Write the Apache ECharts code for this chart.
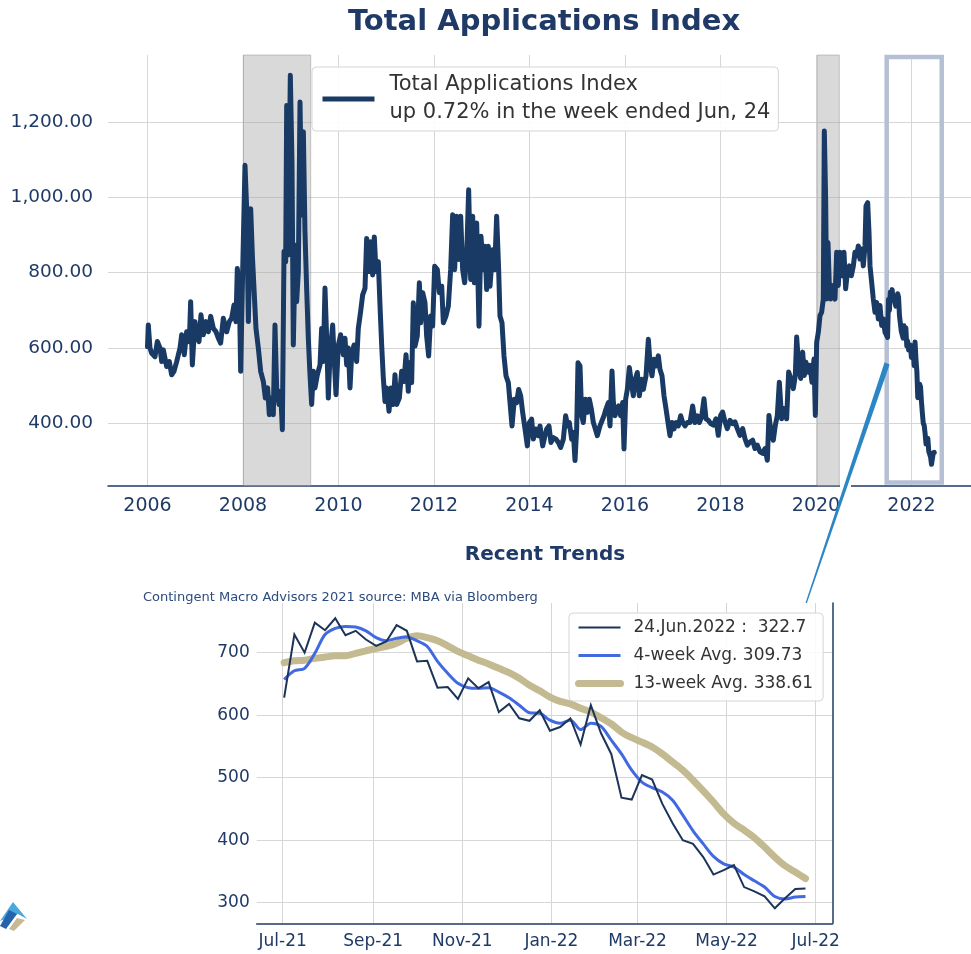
<!DOCTYPE html>
<html><head><meta charset="utf-8">
<script src="https://cdn.jsdelivr.net/npm/echarts@6/dist/echarts.min.js"></script>
<style>html,body{margin:0;padding:0;background:#fff}#c{width:971px;height:954px}</style>
</head><body><div id="c"></div>
<script>
// ---------- DATA ----------
// Total Applications Index, weekly history: [decimal year, index]
const topHistory = [
[2006.000,604],[2006.017,661],[2006.052,600],[2006.087,586],[2006.157,577],[2006.206,617],[2006.262,600],[2006.297,564],[2006.332,595],[2006.401,551],
[2006.457,564],[2006.506,529],[2006.555,538],[2006.611,564],[2006.681,600],[2006.716,635],[2006.771,582],[2006.820,643],[2006.876,617],[2006.904,723],
[2006.939,555],[2006.995,670],[2007.030,635],[2007.079,617],[2007.120,688],[2007.169,635],[2007.225,670],[2007.274,643],[2007.323,684],[2007.379,652],
[2007.435,643],[2007.484,626],[2007.532,613],[2007.588,679],[2007.658,643],[2007.714,670],[2007.763,679],[2007.812,714],[2007.853,670],[2007.881,811],
[2007.923,758],[2007.951,538],[2007.993,802],[2008.042,1085],[2008.077,970],[2008.112,670],[2008.161,970],[2008.196,847],[2008.237,741],[2008.272,652],
[2008.321,600],[2008.370,538],[2008.426,511],[2008.468,467],[2008.516,494],[2008.551,423],[2008.600,467],[2008.635,423],[2008.670,661],[2008.705,494],
[2008.754,450],[2008.789,485],[2008.824,383],[2008.859,856],[2008.894,829],[2008.915,1244],[2008.949,847],[2008.991,1324],[2009.026,1094],[2009.054,608],
[2009.096,873],[2009.124,723],[2009.159,803],[2009.194,1253],[2009.229,953],[2009.264,1174],[2009.298,909],[2009.333,759],[2009.368,626],[2009.403,529],
[2009.438,450],[2009.473,538],[2009.508,494],[2009.557,529],[2009.613,555],[2009.647,652],[2009.682,564],[2009.717,759],[2009.752,626],[2009.787,467],
[2009.822,582],[2009.878,661],[2009.906,582],[2009.948,476],[2009.997,608],[2010.045,635],[2010.101,582],[2010.136,626],[2010.171,555],[2010.206,600],
[2010.241,494],[2010.276,582],[2010.325,608],[2010.380,564],[2010.415,652],[2010.464,697],[2010.506,741],[2010.555,758],[2010.590,891],[2010.632,803],
[2010.674,882],[2010.715,794],[2010.750,895],[2010.785,803],[2010.834,829],[2010.869,714],[2010.904,608],[2010.939,520],[2010.974,458],[2011.009,494],
[2011.058,432],[2011.100,494],[2011.148,450],[2011.183,529],[2011.218,450],[2011.274,467],[2011.323,538],[2011.372,511],[2011.414,582],[2011.462,485],
[2011.483,561],[2011.532,508],[2011.567,720],[2011.602,605],[2011.651,632],[2011.693,773],[2011.721,667],[2011.763,747],[2011.812,720],[2011.846,632],
[2011.888,579],[2011.930,685],[2011.972,658],[2012.014,817],[2012.070,808],[2012.112,747],[2012.161,764],[2012.196,667],[2012.251,685],[2012.300,711],
[2012.349,808],[2012.391,954],[2012.433,808],[2012.475,950],[2012.517,835],[2012.559,950],[2012.600,808],[2012.642,773],[2012.684,844],[2012.726,1020],
[2012.768,782],[2012.810,950],[2012.845,773],[2012.894,932],[2012.942,658],[2012.984,897],[2013.033,808],[2013.068,870],[2013.103,755],[2013.138,870],
[2013.173,764],[2013.229,861],[2013.271,808],[2013.312,950],[2013.354,808],[2013.382,685],[2013.424,667],[2013.466,579],[2013.508,526],[2013.557,508],
[2013.592,455],[2013.634,393],[2013.682,464],[2013.731,455],[2013.773,490],[2013.815,473],[2013.857,429],[2013.906,385],[2013.955,340],[2013.997,402],
[2014.045,411],[2014.080,358],[2014.129,385],[2014.185,367],[2014.220,393],[2014.276,340],[2014.325,367],[2014.360,385],[2014.408,393],[2014.450,349],
[2014.499,362],[2014.555,358],[2014.604,349],[2014.653,336],[2014.709,358],[2014.757,420],[2014.799,393],[2014.834,402],[2014.883,358],[2014.918,376],
[2014.953,301],[2014.988,385],[2015.016,561],[2015.058,552],[2015.093,420],[2015.127,402],[2015.169,464],[2015.211,429],[2015.253,464],[2015.295,438],
[2015.337,402],[2015.379,385],[2015.421,367],[2015.476,393],[2015.511,393],[2015.560,420],[2015.602,438],[2015.651,455],[2015.686,393],[2015.728,539],
[2015.756,455],[2015.791,420],[2015.826,438],[2015.867,446],[2015.909,420],[2015.951,455],[2015.979,332],[2016.014,464],[2016.049,490],[2016.091,548],
[2016.133,508],[2016.175,473],[2016.216,517],[2016.258,535],[2016.300,473],[2016.349,517],[2016.384,490],[2016.440,526],[2016.489,623],[2016.524,561],
[2016.565,526],[2016.607,570],[2016.649,552],[2016.698,579],[2016.733,543],[2016.775,526],[2016.817,473],[2016.859,438],[2016.901,402],[2016.942,367],
[2016.984,402],[2017.026,385],[2017.068,402],[2017.117,393],[2017.166,420],[2017.208,402],[2017.257,393],[2017.305,402],[2017.361,402],[2017.417,446],
[2017.466,402],[2017.515,420],[2017.557,402],[2017.605,417],[2017.654,465],[2017.696,412],[2017.745,408],[2017.794,399],[2017.850,395],[2017.906,412],
[2017.954,368],[2018.003,421],[2018.045,430],[2018.094,404],[2018.143,386],[2018.199,408],[2018.255,399],[2018.303,404],[2018.352,386],[2018.408,368],
[2018.464,386],[2018.513,359],[2018.562,342],[2018.618,350],[2018.673,355],[2018.722,333],[2018.771,342],[2018.827,324],[2018.883,320],[2018.932,333],
[2018.981,302],[2019.015,421],[2019.057,377],[2019.106,355],[2019.148,395],[2019.190,421],[2019.232,509],[2019.281,412],[2019.330,439],[2019.385,412],
[2019.427,536],[2019.476,519],[2019.525,492],[2019.567,527],[2019.595,629],[2019.637,554],[2019.679,519],[2019.721,589],[2019.755,527],[2019.790,562],
[2019.839,536],[2019.874,554],[2019.916,509],[2019.958,571],[2019.986,421],[2020.014,615],[2020.049,642],[2020.084,686],[2020.118,695],[2020.153,730],
[2020.174,1176],[2020.202,995],[2020.223,730],[2020.251,880],[2020.279,766],[2020.307,730],[2020.335,766],[2020.363,739],[2020.398,730],[2020.433,854],
[2020.467,766],[2020.502,854],[2020.544,792],[2020.586,854],[2020.621,757],[2020.656,801],[2020.698,818],[2020.740,792],[2020.782,818],[2020.816,854],
[2020.851,845],[2020.886,871],[2020.921,836],[2020.956,863],[2020.991,818],[2021.026,871],[2021.047,977],[2021.082,986],[2021.110,907],[2021.131,818],
[2021.166,774],[2021.200,730],[2021.235,695],[2021.270,721],[2021.305,677],[2021.340,713],[2021.375,660],[2021.410,677],[2021.445,642]
];

// Recent trends (weekly, first week ended 2 Jul 2021, last 24 Jun 2022)
const recentFirstWeek = [2021, 6, 2];
const recentWeekly = [628,729,700,748,736,755,728,735,721,711,718,744,735,686,687,644,645,626,659,643,653,605,618,595,591,608,575,581,595,553,616,571,538,468,465,504,497,458,427,400,394,373,345,352,360,325,318,310,291,307,322,322.7];
const recentAvg4 = [657,671,675,699,729,739,742,741,735,724,719,723,725,719,710,686,667,651,644,643,644,637,628,616,604,603,592,587,592,577,587,582,560,538,512,493,484,477,464,440,415,394,374,362,357,345,335,325,310,306,309,309.73];
const recentAvg13 = [684,687,688,691,693,695,695,699,703,707,710,715,723,727,724,719,711,702,695,688,682,675,668,659,648,639,629,622,618,611,605,596,586,573,564,557,549,538,525,512,496,479,461,442,427,416,404,389,373,359,349,338.61];
const recentNames = ['24.Jun.2022 :  322.7', '4-week Avg. 309.73', '13-week Avg. 338.61'];

// Tick labels
const topYearTicks = [2006,2008,2010,2012,2014,2016,2018,2020,2022];
const topValueTicks = [400,600,800,1000,1200];
const recentValueTicks = [300,400,500,600,700];
const recentMonthTicks = [[2021,6],[2021,8],[2021,10],[2022,0],[2022,2],[2022,4],[2022,6]];
const monthNames = ['Jan','Feb','Mar','Apr','May','Jun','Jul','Aug','Sep','Oct','Nov','Dec'];

// Shaded recessions and highlighted window (decimal years)
const recessions = [[2008.006, 2009.418],[2020.027, 2020.488]];
const zoomWindow = {x: [2021.48, 2022.633], y: [242.8, 1373]};

const topName = 'Total Applications Index\nup 0.72% in the week ended Jun, 24';
const mainTitle = 'Total Applications Index';
const subTitle = 'Recent Trends';
const sourceNote = 'Contingent Macro Advisors 2021 source: MBA via Bloomberg';

// ---------- BUILD ----------
const FONT = 'DejaVu Sans';
const NAVY = '#1f3a66';
const DAY = 86400000;
const t0 = Date.UTC(recentFirstWeek[0], recentFirstWeek[1], recentFirstWeek[2]);
const recentDates = recentWeekly.map((_, i) => t0 + i * 7 * DAY);
const toYear = t => { const y = new Date(t).getUTCFullYear(); const a = Date.UTC(y,0,1), b = Date.UTC(y+1,0,1); return y + (t - a) / (b - a); };
const topData = topHistory.concat(recentDates.map((t, i) => [toYear(t), recentWeekly[i]]));
const monthTickValues = recentMonthTicks.map(m => Date.UTC(m[0], m[1], 1));
const fmtThousands = v => String(Math.round(v)).replace(/\B(?=(\d{3})+(?!\d))/g, ',') + '.00';
const fmtMonth = v => { const d = new Date(v); return monthNames[d.getUTCMonth()] + '-' + String(d.getUTCFullYear()).slice(2); };

const insetMin = Date.UTC(2021,6,1) - 17.8 * DAY;
const insetMax = Date.UTC(2022,6,1) + 11.5 * DAY;

const chart = echarts.init(document.getElementById('c'), null, {renderer: 'canvas', width: 971, height: 954});
const gridLine = {show: true, lineStyle: {color: '#d6d6d6', width: 1}};
const noSymbol = {opacity: 0, borderWidth: 0};

chart.setOption({
  animation: false,
  textStyle: {fontFamily: FONT},
  grid: [
    {left: 108, right: 0, top: 55, height: 431},
    {left: 256.7, top: 603, width: 575.8, height: 320.3}
  ],
  xAxis: [
    {gridIndex: 0, type: 'value', min: 2005.173, max: 2023.246,
     axisLine: {show: true, onZero: false, lineStyle: {color: NAVY, width: 1.5}},
     axisTick: {show: false, customValues: topYearTicks},
     axisLabel: {customValues: topYearTicks, formatter: v => String(v), color: NAVY, fontSize: 19, margin: 11, fontFamily: FONT},
     splitLine: gridLine},
    {gridIndex: 1, type: 'value', min: insetMin, max: insetMax,
     axisLine: {show: true, onZero: false, lineStyle: {color: NAVY, width: 1.5}},
     axisTick: {show: false, customValues: monthTickValues},
     axisLabel: {customValues: monthTickValues, formatter: fmtMonth, color: NAVY, fontSize: 17, margin: 10, fontFamily: FONT},
     splitLine: gridLine}
  ],
  yAxis: [
    {gridIndex: 0, type: 'value', min: 233.5, max: 1378,
     axisLine: {show: false}, axisTick: {show: false, customValues: topValueTicks},
     axisLabel: {customValues: topValueTicks, formatter: fmtThousands, color: NAVY, fontSize: 18.5, margin: 15, fontFamily: FONT},
     splitLine: gridLine},
    {gridIndex: 1, type: 'value', min: 267, max: 779.5,
     axisLine: {show: false}, axisTick: {show: false, customValues: recentValueTicks},
     axisLabel: {customValues: recentValueTicks, color: NAVY, fontSize: 17, margin: 7, fontFamily: FONT},
     splitLine: gridLine},
    {gridIndex: 1, type: 'value', position: 'right', min: 267, max: 779.5,
     axisLine: {show: true, onZero: false, lineStyle: {color: NAVY, width: 1.5}},
     axisTick: {show: false}, axisLabel: {show: false}, splitLine: {show: false}}
  ],
  legend: [
    {data: [{name: topName, lineStyle: {width: 5, cap: 'butt'}, itemStyle: noSymbol}], left: 312, top: 67, padding: [4, 8, 4, 8],
     itemWidth: 52, itemHeight: 14, selectedMode: false,
     borderColor: '#d5d5d5', borderWidth: 1, borderRadius: 4, backgroundColor: 'rgba(255,255,255,0.92)',
     textStyle: {fontSize: 21, lineHeight: 28, color: '#333', fontFamily: FONT, padding: [0, 0, 0, 10]}},
    {data: [{name: recentNames[0], lineStyle: {width: 2}, itemStyle: noSymbol}, {name: recentNames[1], lineStyle: {width: 3}, itemStyle: noSymbol}, {name: recentNames[2], lineStyle: {width: 7, cap: 'round'}, itemStyle: noSymbol}],
     orient: 'vertical', left: 569, top: 613, padding: [6, 10, 9, 6],
     itemWidth: 42, itemHeight: 14, itemGap: 11, selectedMode: false,
     borderColor: '#d5d5d5', borderWidth: 1, borderRadius: 4, backgroundColor: 'rgba(255,255,255,0.88)',
     textStyle: {fontSize: 17, lineHeight: 17, color: '#333', fontFamily: FONT, padding: [0, 0, 0, 8]}}
  ],
  series: [
    {name: topName, type: 'line', xAxisIndex: 0, yAxisIndex: 0, data: topData, symbol: 'none',
     lineStyle: {color: '#183a64', width: 5, cap: 'round', join: 'round'}, itemStyle: {color: '#183a64'}, z: 3,
     markArea: {silent: true, z: 1, data: [
       [{xAxis: recessions[0][0], itemStyle: {color: 'rgba(165,165,165,0.42)', borderColor: 'rgba(140,140,140,0.45)', borderWidth: 1}}, {xAxis: recessions[0][1]}],
       [{xAxis: recessions[1][0], itemStyle: {color: 'rgba(165,165,165,0.42)', borderColor: 'rgba(140,140,140,0.45)', borderWidth: 1}}, {xAxis: recessions[1][1]}],
       [{xAxis: zoomWindow.x[0], yAxis: zoomWindow.y[1], itemStyle: {color: 'rgba(0,0,0,0)', borderColor: '#b6c0d4', borderWidth: 4.5}}, {xAxis: zoomWindow.x[1], yAxis: zoomWindow.y[0]}]
     ]}},
    {name: recentNames[2], type: 'line', xAxisIndex: 1, yAxisIndex: 1, data: recentDates.map((t, i) => [t, recentAvg13[i]]), symbol: 'none', smooth: 0.3,
     lineStyle: {color: '#c4ba92', width: 7, cap: 'round', join: 'round'}, itemStyle: {color: '#c4ba92'}, z: 2},
    {name: recentNames[1], type: 'line', xAxisIndex: 1, yAxisIndex: 1, data: recentDates.map((t, i) => [t, recentAvg4[i]]), symbol: 'none', smooth: 0.3,
     lineStyle: {color: '#4169e1', width: 3, join: 'round'}, itemStyle: {color: '#4169e1'}, z: 3},
    {name: recentNames[0], type: 'line', xAxisIndex: 1, yAxisIndex: 1, data: recentDates.map((t, i) => [t, recentWeekly[i]]), symbol: 'none',
     lineStyle: {color: '#1c3459', width: 2, join: 'miter'}, itemStyle: {color: '#1c3459'}, z: 4}
  ],
  graphic: [
    {type: 'text', x: 544, y: 22, z: 10, style: {text: mainTitle, fontSize: 29, fontWeight: 'bold', fontFamily: FONT, fill: NAVY, align: 'center', verticalAlign: 'middle'}},
    {type: 'text', x: 545, y: 555, z: 10, style: {text: subTitle, fontSize: 20, fontWeight: 'bold', fontFamily: FONT, fill: NAVY, align: 'center', verticalAlign: 'middle'}},
    {type: 'text', x: 143, y: 598, z: 10, style: {text: sourceNote, fontSize: 13, fontFamily: FONT, fill: '#2d4b7c', align: 'left', verticalAlign: 'middle'}},
    {type: 'rect', z: 10, shape: {x: 840, y: 483, width: 11, height: 6}, style: {fill: '#ffffff'}},
    {type: 'polygon', z: 11, shape: {points: [[884.6, 362.2], [889.6, 364.6], [806.9, 603], [805.5, 603]]}, style: {fill: '#2b86c5'}},
    {type: 'polygon', z: 11, shape: {points: [[0, 921], [13, 902], [27, 919], [18, 914]]}, style: {fill: '#4ba7dc'}},
    {type: 'polygon', z: 12, shape: {points: [[0, 926], [9, 910], [17, 914], [6, 929]]}, style: {fill: '#2464ad'}},
    {type: 'polygon', z: 12, shape: {points: [[9, 929], [17, 918], [25, 920], [14, 931]]}, style: {fill: '#c9b894'}}
  ]
});
</script></body></html>
